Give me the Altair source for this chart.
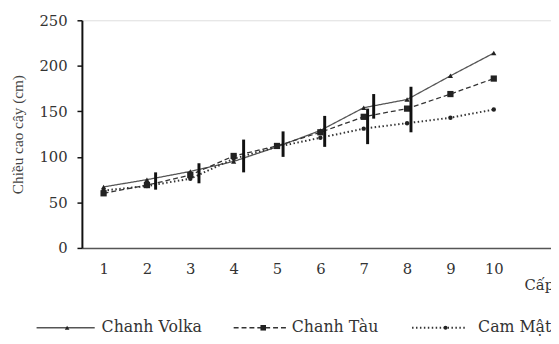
import altair as alt
import pandas as pd

# ---- data ----
x_levels = [1, 2, 3, 4, 5, 6, 7, 8, 9, 10]
volka = [67, 75, 84, 95, 111, 129, 154, 163, 189, 214]
tau = [60, 69, 80, 101, 112, 127, 144, 153, 169, 186]
cam_mat = [63, 68, 76, 98, 111, 121, 131, 137, 143, 152]

err_x = [2.2, 3.2, 4.23, 5.14, 6.1, 7.09, 7.23, 8.09]
err_low = [64, 71, 83, 100, 111, 114, 142, 127]
err_high = [83, 93, 119, 128, 145, 153, 169, 177]

series_names = ["Chanh Volka", "Chanh Tàu", "Cam Mật"]
y_ticks = [0, 50, 100, 150, 200, 250]
y_title = "Chiều cao cây (cm)"
x_title = "Cấp cành"

FONT_H = "DejaVu Serif"       # horizontal texts (wide, as in the reference)
FONT_V = "Liberation Serif"   # rotated axis title
W, H = 476, 231

xs = alt.Scale(domain=[0.5, 11.32], nice=False, zero=False)
ys = alt.Scale(domain=[0, 250], nice=False)

styles = [
    dict(color="#555555", dash=[1, 0], width=1.3, shape="triangle-up", size=28),
    dict(color="#333333", dash=[5, 3], width=1.3, shape="square", size=40),
    dict(color="#333333", dash=[1.5, 2.5], width=2.0, shape="circle", size=20),
]

layers = []

base_df = pd.DataFrame({"x": x_levels, "y": volka})
axes = alt.Chart(base_df).mark_point(opacity=0).encode(
    x=alt.X("x:Q", scale=xs, axis=alt.Axis(values=x_levels, title=None, ticks=False,
                                              grid=False, domainColor="#555555",
                                              domainWidth=1.5, labelFont=FONT_H,
                                              labelFontSize=15, labelColor="#333333",
                                              labelPadding=14)),
    y=alt.Y("y:Q", scale=ys, axis=alt.Axis(values=y_ticks, title=y_title, grid=False,
                                              domainColor="#111111", domainWidth=2,
                                              tickColor="#111111", tickWidth=1.5, tickSize=5,
                                              labelFont=FONT_H, labelFontSize=15,
                                              labelColor="#333333", labelPadding=10,
                                              titleFont=FONT_V, titleFontSize=15.5,
                                              titleFontWeight="normal", titleColor="#444444",
                                              titlePadding=14)),
)
layers.append(axes)

for name, vals, st in zip(series_names, [volka, tau, cam_mat], styles):
    df = pd.DataFrame({"x": x_levels, "y": vals, "s": name})
    line = alt.Chart(df).mark_line(color=st["color"], strokeDash=st["dash"],
                                   strokeWidth=st["width"]).encode(
        x=alt.X("x:Q", scale=xs), y=alt.Y("y:Q", scale=ys))
    pts = alt.Chart(df).mark_point(shape=st["shape"], size=st["size"], filled=True,
                                   color="#222222", opacity=1).encode(
        x=alt.X("x:Q", scale=xs), y=alt.Y("y:Q", scale=ys))
    layers += [line, pts]

err_df = pd.DataFrame({"x": err_x, "lo": err_low, "hi": err_high})
errs = alt.Chart(err_df).mark_rule(color="#111111", strokeWidth=3).encode(
    x=alt.X("x:Q", scale=xs), y=alt.Y("lo:Q", scale=ys), y2="hi:Q")
layers.append(errs)

# x title (partly cut off by the page edge, as in the reference)
xt = alt.Chart(pd.DataFrame({"t": [x_title]})).mark_text(
    font=FONT_H, fontSize=15, align="left", baseline="middle", color="#333333").encode(
    x=alt.value(449), y=alt.value(269), text="t:N")
layers.append(xt)

# manual legend (pixel positions relative to the plot's left edge at x=83)
leg_y = 312
leg = [
    (series_names[0], 37, 96, 68, 103),
    (series_names[1], 237, 293, 267, 296),
    (series_names[2], 418, 474, 452, 485),
]
for (name, x1, x2, xm, xtxt), st in zip(leg, styles):
    d = pd.DataFrame({"t": [name]})
    layers.append(alt.Chart(d).mark_rule(color=st["color"], strokeDash=st["dash"],
                                         strokeWidth=st["width"]).encode(
        x=alt.value(x1 - 83), x2=alt.value(x2 - 83), y=alt.value(leg_y)))
    layers.append(alt.Chart(d).mark_point(shape=st["shape"], size=st["size"] * 0.8,
                                          filled=True, color="#222222", opacity=1).encode(
        x=alt.value(xm - 83), y=alt.value(leg_y)))
    layers.append(alt.Chart(d).mark_text(font=FONT_H, fontSize=16, align="left",
                                         baseline="middle", color="#333333").encode(
        x=alt.value(xtxt - 83), y=alt.value(leg_y - 1), text="t:N"))

chart = alt.layer(*layers).properties(
    width=W, height=H,
    autosize=alt.AutoSizeParams(type="none"),
    padding={"left": 75, "top": 10, "right": 0, "bottom": 95},
).configure_view(stroke=None).configure(background="white")

chart.save("out.html", embed_options={"renderer": "svg", "actions": False})
